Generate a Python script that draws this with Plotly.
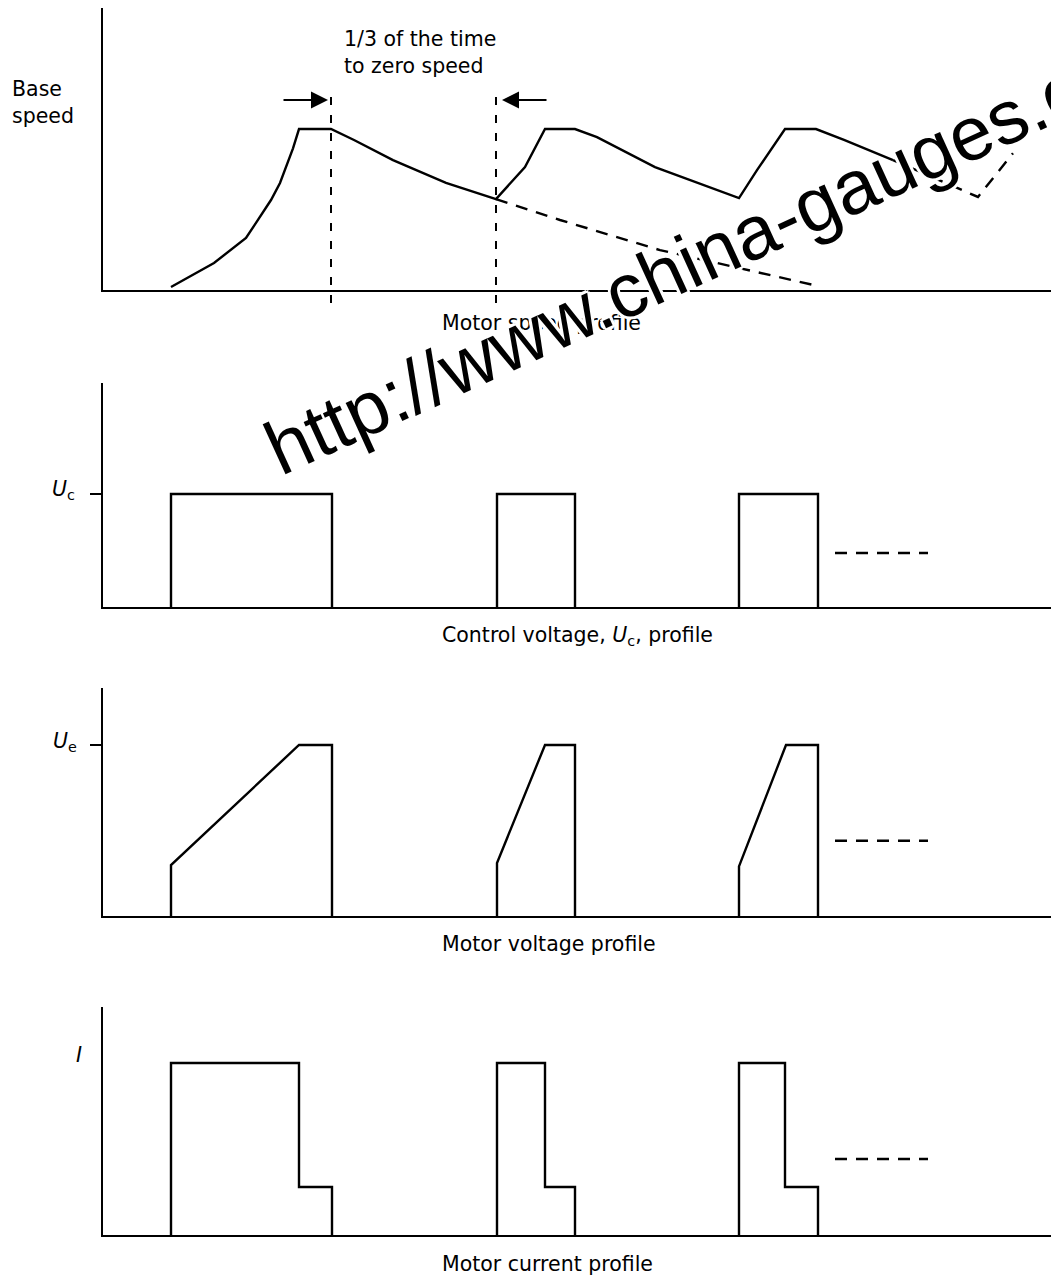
import math
import plotly.graph_objects as go

# ---------------- data ----------------
T_MAX = 948  # length of the time axis (arbitrary units)

# Motor speed profile (percent of base speed)
speed_t = [68, 111, 143, 168, 177, 183, 190, 196, 228, 251, 290, 343, 393, 422, 442, 472,
           494, 552, 636, 654, 682, 713, 741, 790]
speed_v = [1.9, 16.8, 32.3, 55.9, 66.5, 76.4, 88.0, 100, 100, 93.2, 80.7, 66.5, 56.5, 76.4,
           100, 100, 95, 76.4, 57.1, 74.5, 100, 100, 93.2, 80.7]
# coasting to zero speed (no re-acceleration), dashed
coast_t = [393, 457, 557, 630, 715]
coast_v = [56.5, 43.5, 24.8, 14.3, 2.5]
# continuation of the cycle, dashed
cont_t = [790, 875, 910]
cont_v = [80.7, 57.8, 85]
speed_axis_max = 175.2
# "1/3 of the time to zero speed" interval markers
marker_t = [228, 393]
marker_top = 126          # height of the marker lines (percent)
arrow_level = 118         # height of the arrows (percent)

# pulses (common timing)
pulse_on = [68, 394, 636]
pulse_off = [229, 472, 715]

# Control voltage Uc (normalised to Uc)
uc_level = 1.0
uc_axis_max = 1.982
uc_tail = 0.478

# Motor voltage (normalised to Ue)
ue_ramp_end = [196, 442, 683]
ue_start = [0.298, 0.31, 0.29]
ue_level = 1.0
ue_axis_max = 1.333
ue_tail = 0.44

# Motor current (normalised to I)
i_step = [196, 442, 682]
i_high = 1.0
i_low = 0.279
i_axis_max = 1.326
i_tail = 0.442

tail_t = [732, 825]

# ---------------- layout helpers ----------------
W, H = 1051, 1278
X0 = 103
FONT = "DejaVu Sans"
FS = 20.5
LW = 2.4


def ydom(top_px, bottom_px):
    return [1 - bottom_px / H, 1 - top_px / H]


def build_steps(levels_fn):
    xs, ys = [], []
    for k in range(len(pulse_on)):
        px, py = levels_fn(k)
        xs += px + [None]
        ys += py + [None]
    return xs, ys


uc_x, uc_y = build_steps(lambda k: ([pulse_on[k], pulse_on[k], pulse_off[k], pulse_off[k]],
                                    [0, uc_level, uc_level, 0]))
ue_x, ue_y = build_steps(lambda k: ([pulse_on[k], pulse_on[k], ue_ramp_end[k], pulse_off[k], pulse_off[k]],
                                    [0, ue_start[k], ue_level, ue_level, 0]))
i_x, i_y = build_steps(lambda k: ([pulse_on[k], pulse_on[k], i_step[k], i_step[k], pulse_off[k], pulse_off[k]],
                                  [0, i_high, i_high, i_low, i_low, 0]))

solid = dict(color="black", width=LW)
dashed = dict(color="black", width=LW, dash="12px,9px")

fig = go.Figure()
fig.add_trace(go.Scatter(x=speed_t, y=speed_v, mode="lines", line=solid, xaxis="x", yaxis="y"))
fig.add_trace(go.Scatter(x=coast_t, y=coast_v, mode="lines", line=dashed, xaxis="x", yaxis="y"))
fig.add_trace(go.Scatter(x=cont_t, y=cont_v, mode="lines", line=dashed, xaxis="x", yaxis="y"))

fig.add_trace(go.Scatter(x=uc_x, y=uc_y, mode="lines", line=solid, xaxis="x2", yaxis="y2"))
fig.add_trace(go.Scatter(x=tail_t, y=[uc_tail] * 2, mode="lines", line=dashed, xaxis="x2", yaxis="y2"))

fig.add_trace(go.Scatter(x=ue_x, y=ue_y, mode="lines", line=solid, xaxis="x3", yaxis="y3"))
fig.add_trace(go.Scatter(x=tail_t, y=[ue_tail] * 2, mode="lines", line=dashed, xaxis="x3", yaxis="y3"))

fig.add_trace(go.Scatter(x=i_x, y=i_y, mode="lines", line=solid, xaxis="x4", yaxis="y4"))
fig.add_trace(go.Scatter(x=tail_t, y=[i_tail] * 2, mode="lines", line=dashed, xaxis="x4", yaxis="y4"))

xcommon = dict(range=[0, T_MAX], domain=[X0 / W, 1], showline=True, linecolor="black",
               linewidth=LW, showticklabels=False, ticks="", showgrid=False, zeroline=False)
ycommon = dict(showline=True, linecolor="black", linewidth=LW, showgrid=False,
               zeroline=False, showticklabels=False)
ytick = dict(ticks="outside", tickvals=[1], ticklen=11, tickwidth=LW, tickcolor="black")

layout = dict(
    width=W, height=H, margin=dict(l=0, r=0, t=0, b=0),
    paper_bgcolor="white", plot_bgcolor="white", showlegend=False,
    xaxis=dict(xcommon, anchor="y"),
    xaxis2=dict(xcommon, anchor="y2"),
    xaxis3=dict(xcommon, anchor="y3"),
    xaxis4=dict(xcommon, anchor="y4"),
    yaxis=dict(ycommon, anchor="x", range=[0, speed_axis_max], domain=ydom(8, 290), ticks=""),
    yaxis2=dict(ycommon, **ytick, anchor="x2", range=[0, uc_axis_max], domain=ydom(383, 607)),
    yaxis3=dict(ycommon, **ytick, anchor="x3", range=[0, ue_axis_max], domain=ydom(688, 916)),
    yaxis4=dict(ycommon, anchor="x4", range=[0, i_axis_max], domain=ydom(1007, 1235), ticks=""),
)
fig.update_layout(**layout)

# vertical dashed interval markers (extend slightly below the axis)
y_bottom = -13 / 282
for t in marker_t:
    fig.add_shape(type="line", xref="x", yref="y domain", x0=t, x1=t,
                  y0=y_bottom, y1=marker_top / speed_axis_max,
                  line=dict(color="black", width=2, dash="8px,10px"))

font = dict(family=FONT, size=FS, color="black")
ann = []
# arrows
ann.append(dict(xref="x", yref="y", x=marker_t[0] - 3, y=arrow_level, ax=-46, ay=0,
                showarrow=True, arrowhead=2, arrowsize=1.7, arrowwidth=2, arrowcolor="black", text=""))
ann.append(dict(xref="x", yref="y", x=marker_t[1] + 6, y=arrow_level, ax=46, ay=0,
                showarrow=True, arrowhead=2, arrowsize=1.7, arrowwidth=2, arrowcolor="black", text=""))


def label(text, xpx, ypx, xanchor="left", align="left"):
    ann.append(dict(xref="paper", yref="paper", x=xpx / W, y=1 - ypx / H, text=text,
                    showarrow=False, xanchor=xanchor, yanchor="middle", align=align, font=font))


label("Base<br>speed", 10, 103)
label("1/3 of the time<br>to zero speed", 342, 52)
label("Motor speed profile", 440, 323)
label("Control voltage, <i>U</i><sub>c</sub>, profile", 440, 636)
label("Motor voltage profile", 440, 944)
label("Motor current profile", 440, 1264)
label("<i>U</i><sub>c</sub>", 77, 490, xanchor="right")
label("<i>U</i><sub>e</sub>", 79, 742, xanchor="right")
label("<i>I</i>", 84, 1055, xanchor="right")

# watermark (rotated), with a white halo
wm_text = "http://www.china-gauges.com"
wm_size = 76
wm_angle = 24.5
wm_start = (279, 477)
wm_len_em = 13.116
a = math.radians(wm_angle)
u = (math.cos(a), -math.sin(a))
n = (-math.sin(a), -math.cos(a))
along = wm_len_em * wm_size / 2
up = 0.3465 * wm_size
cx = wm_start[0] + along * u[0] + up * n[0]
cy = wm_start[1] + along * u[1] + up * n[1]
halo = ", ".join(f"{dx}px {dy}px 0 #fff" for dx, dy in
                 [(3, 0), (-3, 0), (0, 3), (0, -3), (2, 2), (-2, -2), (2, -2), (-2, 2)])
ann.append(dict(xref="paper", yref="paper", x=cx / W, y=1 - cy / H, text=wm_text,
                showarrow=False, xanchor="center", yanchor="middle", textangle=-wm_angle,
                font=dict(family="Liberation Sans", size=wm_size, color="black", shadow=halo)))

fig.update_layout(annotations=ann)
fig.write_html("out.html", config={"displayModeBar": False},
               post_script="document.body.style.margin='0';")
